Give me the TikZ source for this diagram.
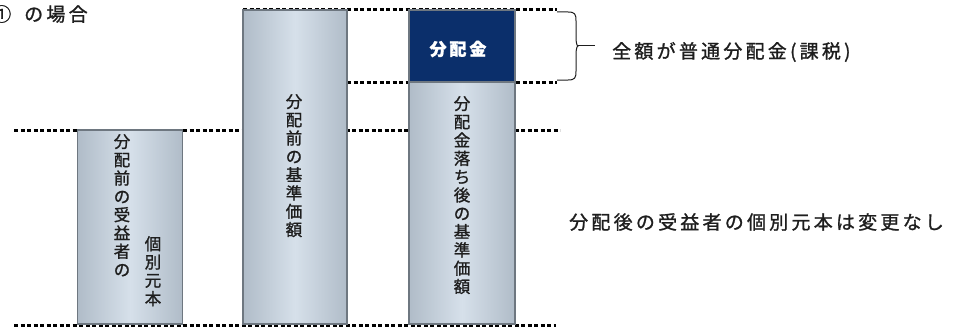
\documentclass[tikz,border=0pt]{standalone}
\usepackage{fontspec}
\newfontfamily\jp[FakeBold=1.2]{Noto Sans CJK JP}
\newfontfamily\jpsp[LetterSpace=17,FakeBold=1.2]{Noto Sans CJK JP}
\usetikzlibrary{calc}
\definecolor{boxedge}{HTML}{6E7780}
\definecolor{boxside}{HTML}{B0BCC8}
\definecolor{boxmid}{HTML}{D6E0EA}
\definecolor{navy}{HTML}{0B2F6B}
\definecolor{ink}{HTML}{1E1E1E}
\tikzset{
  bar/.style={draw=boxedge, line width=1.2pt, left color=boxside, right color=boxside, middle color=boxmid},
  navybox/.style={draw=boxedge, line width=1.2pt, fill=navy},
  dotline/.style={line width=3pt, dash pattern=on 4pt off 2.5pt, black},
  vtext/.style={font=\jp\fontsize{16.5}{18.3}\selectfont, align=center, inner sep=0pt, anchor=north, text=ink},
  htext/.style={font=\jpsp\fontsize{19}{22}\selectfont, inner sep=0pt, anchor=west, text=ink},
}
\begin{document}
\begin{tikzpicture}[x=1pt,y=-1pt]
\useasboundingbox (0,0) rectangle (968,329);
% dotted lines
\draw[dotline] (243,10) -- (557,10);
\draw[dotline] (347,82) -- (557,82);
\draw[dotline] (14,130) -- (560,130);
\draw[dotline] (14,325) -- (556,325);
% bars
\node[bar, minimum width=105pt, minimum height=194pt, inner sep=0pt] (b1) at (130,227) {};
\node[bar, minimum width=104pt, minimum height=314pt, inner sep=0pt] (b2) at (295,167) {};
\node[bar, minimum width=106pt, minimum height=242pt, inner sep=0pt] (b3) at (462,203) {};
\node[navybox, minimum width=106pt, minimum height=72pt, inner sep=0pt] (b4) at (462,46) {};
% bar texts
\node[vtext] (t1) at (122,134) {分\\配\\前\\の\\受\\益\\者\\の};
\node[vtext] (t1b) at (153,236) {個\\別\\元\\本};
\node[vtext] (t2) at (294,94) {分\\配\\前\\の\\基\\準\\価\\額};
\node[vtext] (t3) at (462,96) {分\\配\\金\\落\\ち\\後\\の\\基\\準\\価\\額};
\node[font=\jpsp\bfseries\fontsize{17}{20}\selectfont, text=white, inner sep=0pt] (t4) at ($(b4.center)+(-4,3)$) {分配金};
% brace
\coordinate (br0) at (557,12);
\coordinate (br1) at (557,80);
\coordinate (tip) at (578,46);
\coordinate (brend) at (595,46);
\draw[line width=1pt, ink] (br0) -- (568,12) .. controls (575,12) and (576,14) .. (576,21) -- (576,37) .. controls (576,43) and (577,46) .. (tip)
  .. controls (577,46) and (576,49) .. (576,55) -- (576,71) .. controls (576,78) and (575,80) .. (568,80) -- (br1);
\draw[line width=1pt, ink] (tip) -- (brend);
% right texts
\node[htext] (r1) at (612,52) {全額が普通分配金(課税)};
\node[htext] (r2) at (569,222) {分配後の受益者の個別元本は変更なし};
% title
\node[htext] (title) at (-8,14) {①\hspace{13pt}の場合};
\end{tikzpicture}
\end{document}
